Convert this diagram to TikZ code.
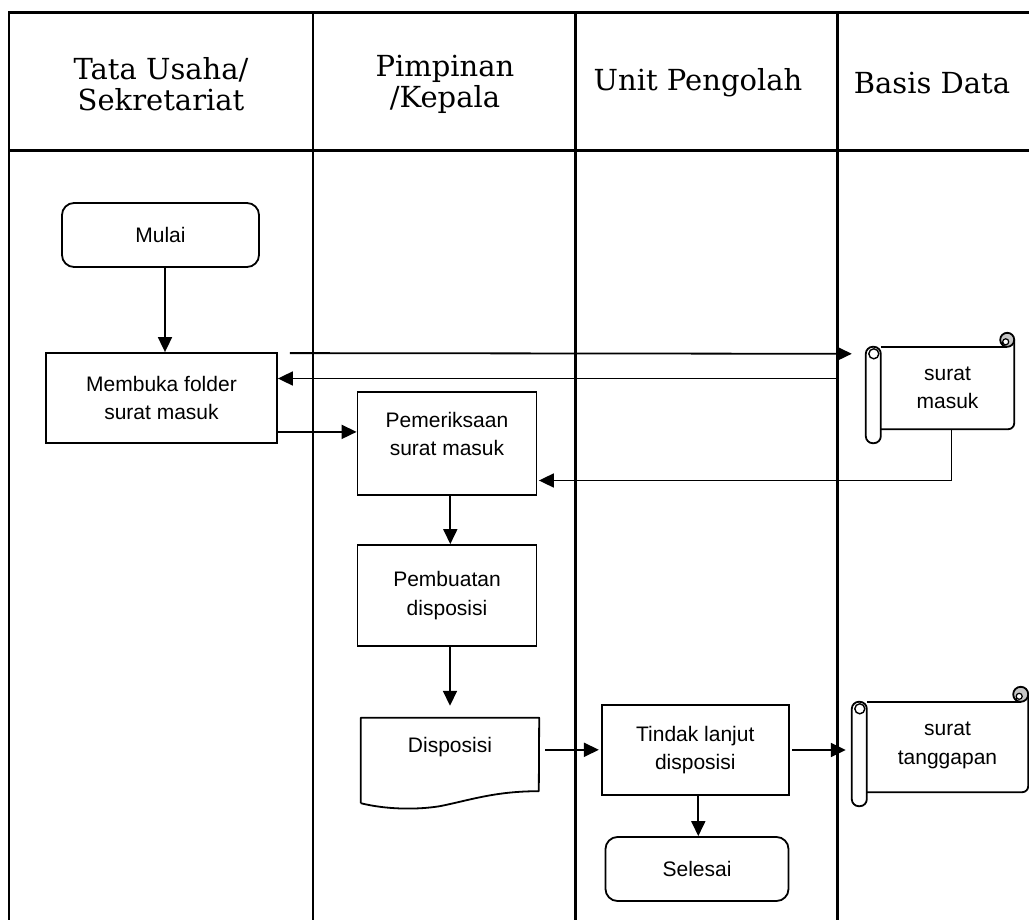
\documentclass[tikz,border=0pt]{standalone}
\usepackage{fontspec}
\setmainfont{Liberation Sans}
\newfontfamily\headfont{DejaVu Serif}
\usetikzlibrary{arrows.meta,calc}
\newcommand\drawscroll[2]{% node name, curl radius
  \draw[plain] (#1.north west) -- ($(#1.north east)+(-#2,0)$);
  \draw[plain,rounded corners=6pt] ($(#1.north east)+(0,-#2)$) -- (#1.south east) -- (#1.south west);
  \draw[plain,fill=gray!45] ($(#1.north east)+(-#2,-#2)$) circle (#2 pt);
  \draw[line width=1.2pt,fill=white] ($(#1.north east)+(-#2-1.5,-#2+2)$) circle (3pt);
  \draw[line width=1.2pt] ($(#1.north east)+(-#2-4.5,-#2+2)$) -- ($(#1.north east)+(-#2-4.5,0)$);
  \draw[plain,fill=white,rounded corners=7pt] ($(#1.north west)+(-15,0)$) rectangle ($(#1.south west)+(0,14)$);
  \draw[line width=1.4pt] ($(#1.north west)+(-7,7)$) circle (5pt);
}
\begin{document}
\begin{tikzpicture}[x=1pt,y=-1pt,
  every node/.style={inner sep=0pt},
  txt/.style={align=center,font=\fontsize{21}{28.5}\selectfont},
  proc/.style={txt,draw,line width=1.8pt},
  term/.style={proc,rounded corners=12pt},
  hdr/.style={align=center,font=\headfont\fontsize{29}{31}\selectfont},
  grid/.style={line width=2.4pt},
  plain/.style={line width=1.8pt},
  flow/.style={line width=1.8pt,-{Triangle[length=15pt,width=14pt]}},
]
\useasboundingbox (0,0) rectangle (1029,920);
\fill[white] (0,0) rectangle (1029,920);

% swimlane grid
\draw[grid] (9,930) -- (9,12.7) -- (1040,12.7);
\draw[grid] (9,150.7) -- (1040,150.7);
\draw[grid] (312.7,12.7) -- (312.7,930);
\draw[grid] (575.5,12.7) -- (575.5,930);
\draw[grid] (837.5,12.7) -- (837.5,930);

% headers
\node[hdr] (h1) at (161,84) {Tata Usaha/\\Sekretariat};
\node[hdr] (h2) at (445,84) {Pimpinan\\/Kepala};
\node[hdr] (h3) at (698,83) {Unit Pengolah};
\node[hdr] (h4) at (932,83) {Basis Data};

% process nodes
\node[term,minimum width=197pt,minimum height=64pt] (mulai) at (160.5,235) {Mulai};
\node[proc,minimum width=231pt,minimum height=90pt] (buka) at (161.5,398) {Membuka folder\\surat masuk};
\node[proc,minimum width=179pt,minimum height=103pt,text depth=19pt] (periksa) at (447,443.5) {Pemeriksaan\\surat masuk};
\node[proc,minimum width=179pt,minimum height=101pt] (buat) at (447,595.5) {Pembuatan\\disposisi};
\node[proc,minimum width=187pt,minimum height=90pt] (tindak) at (695.3,750) {Tindak lanjut\\disposisi};
\node[term,minimum width=183pt,minimum height=64pt] (selesai) at (697,869) {Selesai};

% document shape
\node[txt,minimum width=178pt,text height=34.5pt,text depth=50.5pt] (disp) at (450,760.5) {Disposisi};
\draw[plain,line join=round] (disp.south west) -- (disp.north west) -- (disp.north east)
  -- ($(disp.south west)+(178,-12)$)
  .. controls ($(disp.south west)+(134,-12)$) and ($(disp.south west)+(109,-3)$) .. ($(disp.south west)+(79,3)$)
  .. controls ($(disp.south west)+(54,7)$) and ($(disp.south west)+(24,6)$) .. (disp.south west);

% scrolls
\node[txt,minimum width=133pt,minimum height=82pt] (sm) at (947.5,388) {surat\\masuk};
\drawscroll{sm}{7}
\node[txt,minimum width=161pt,minimum height=90pt,text depth=8pt] (tg) at (947.5,747) {surat\\tanggapan};
\drawscroll{tg}{7.5}

% connectors
\draw[flow] ($(mulai.south)+(4.5,0)$) coordinate (m1) -- (m1 |- buka.north);
\draw[flow] ($(buka.north east)+(12,1)$) -- ($(sm.north west)+(-29,7)$);
\draw[flow] ($(sm.north west)+(-43,31.7)$) coordinate (r1) -- (r1 -| buka.east);
\draw[flow] ($(buka.south east)+(0,-12)$) coordinate (b1) -- (b1 -| periksa.west);
\draw[flow] ($(sm.south)+(4,0)$) |- ($(periksa.east)+(1.5,37)$);
\draw[flow] ($(periksa.south)+(3.3,0)$) coordinate (p1) -- (p1 |- buat.north);
\draw[flow,shorten >=12pt] ($(buat.south)+(3,0)$) coordinate (p2) -- (p2 |- disp.north);
\draw[flow] ($(disp.north east)+(6,32)$) coordinate (d1) -- ($(d1 -| tindak.west)+(-2,0)$);
\draw[flow] ($(tindak.south)+(3,0)$) coordinate (t1) -- (t1 |- selesai.north);
\draw[flow,shorten <=2.5pt] (tindak.east) -- ($(tindak.east -| tg.west)+(-21,0)$);
\end{tikzpicture}
\end{document}
